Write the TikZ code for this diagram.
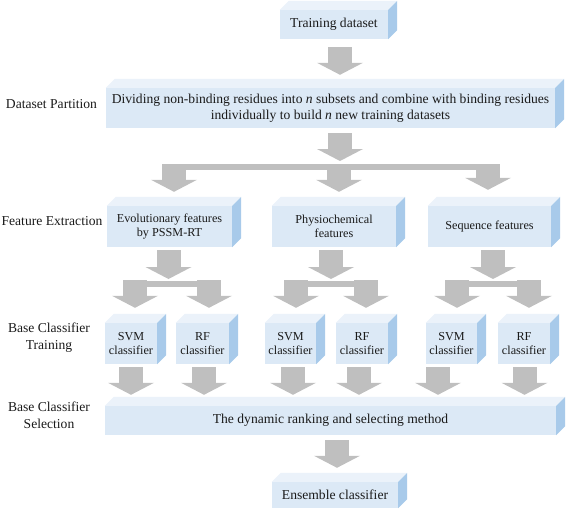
\documentclass[tikz,border=0pt]{standalone}
\usepackage{fontspec}
\setmainfont{Liberation Serif}
\usetikzlibrary{arrows.meta,calc}
\definecolor{frontc}{HTML}{DCE9F6}
\definecolor{topc}{HTML}{EBF2FA}
\definecolor{sidec}{HTML}{A8CAEA}
\definecolor{arrc}{HTML}{BFBFBF}
\definecolor{txtc}{HTML}{1A1A1A}
\tikzset{
  box/.style={fill=frontc, inner sep=0pt, align=center, text=txtc,
    font=\fontsize{13.6}{16}\selectfont},
  sbox/.style={box, font=\fontsize{12.2}{14.5}\selectfont},
  lab/.style={align=center, inner sep=0pt, text=txtc,
    font=\fontsize{13.6}{17}\selectfont},
  barr/.style={draw=arrc, line width=24pt,
    -{Triangle[width=46pt,length=12pt,line width=0pt]}},
  splitbar/.style={draw=arrc, line width=6pt},
}
\newcommand\boxfaces[1]{%
  \fill[topc] (#1.north west) -- ++(9pt,9pt) -- ($(#1.north east)+(9pt,9pt)$) -- (#1.north east) -- cycle;
  \fill[sidec] (#1.north east) -- ++(9pt,9pt) -- ($(#1.south east)+(9pt,9pt)$) -- (#1.south east) -- cycle;}
\begin{document}
\begin{tikzpicture}[x=1pt,y=-1pt]
\useasboundingbox (0,0) rectangle (567,511);
% boxes
\node[box, minimum width=108pt, minimum height=29pt] (train) at (334,24.5) {Training dataset};
\node[box, minimum width=449pt, minimum height=40pt] (part) at (330.5,108)
  {Dividing non-binding residues into \emph{n} subsets and combine with binding residues\\individually to build \emph{n} new training datasets};
\node[sbox, minimum width=125pt, minimum height=41pt] (fe1) at (169.5,226.5) {Evolutionary features\\by PSSM-RT};
\node[sbox, minimum width=124pt, minimum height=41pt] (fe2) at (334,226.5) {Physiochemical\\features};
\node[sbox, minimum width=123pt, minimum height=41pt] (fe3) at (489.5,226.5) {Sequence features};
\node[sbox, minimum width=52pt, minimum height=41pt] (svm1) at (131,343.5) {SVM\\classifier};
\node[sbox, minimum width=53pt, minimum height=41pt] (rf1) at (202.5,343.5) {RF\\classifier};
\node[sbox, minimum width=51pt, minimum height=41pt] (svm2) at (290.5,343.5) {SVM\\classifier};
\node[sbox, minimum width=52pt, minimum height=41pt] (rf2) at (362,343.5) {RF\\classifier};
\node[sbox, minimum width=51pt, minimum height=41pt] (svm3) at (451.5,343.5) {SVM\\classifier};
\node[sbox, minimum width=52pt, minimum height=41pt] (rf3) at (524,343.5) {RF\\classifier};
\node[box, minimum width=451pt, minimum height=29pt] (sel) at (330.5,420.5) {The dynamic ranking and selecting method};
\node[box, minimum width=126pt, minimum height=26pt] (ens) at (335,495) {Ensemble classifier};
\foreach \n in {train,part,fe1,fe2,fe3,svm1,rf1,svm2,rf2,svm3,rf3,sel,ens}{\boxfaces{\n}}
% stage labels
\node[lab] (l1) at (51.5,104) {Dataset Partition};
\node[lab] (l2) at (52,221) {Feature Extraction};
\node[lab] (l3) at (49,338) {Base Classifier\\Training};
\node[lab] (l4) at (49,415.5) {Base Classifier\\Selection};
% arrows: training -> partition
\draw[barr] ($(train.south)+(6,8)$) -- ($(part.north)+(9.5,-13)$);
% partition -> split
\coordinate (j0) at (340,161);
\coordinate (jL) at (162,166.5);
\coordinate (jR) at (500,166.5);
\draw[splitbar] (jL) -- (jR);
\draw[barr] ($(part.south)+(9.5,5)$) -- (j0);
\draw[barr] ($(jL)+(12,-2.5)$) -- ($(fe1.north)+(4.5,-14)$);
\draw[barr] ($(j0)+(-1,3)$) -- ($(fe2.north)+(5,-14)$);
\draw[barr] ($(jR)+(-12,-2.5)$) -- ($(fe3.north)+(-1.5,-16)$);
% group 1 split
\coordinate (k1) at (168.5,279);
\coordinate (k1L) at (123,283.5);
\coordinate (k1R) at (221,283.5);
\draw[splitbar] (k1L) -- (k1R);
\draw[barr] ($(fe1.south)+(-1,3)$) -- (k1);
\draw[barr] ($(k1L)+(12,-3.5)$) -- ($(svm1.north)+(4,-15)$);
\draw[barr] ($(k1R)+(-12,-3.5)$) -- ($(rf1.north)+(6.5,-15)$);
% group 2 split
\coordinate (k2) at (331,279);
\coordinate (k2L) at (284,283.5);
\coordinate (k2R) at (378,283.5);
\draw[splitbar] (k2L) -- (k2R);
\draw[barr] ($(fe2.south)+(-3,3)$) -- (k2);
\draw[barr] ($(k2L)+(12,-3.5)$) -- ($(svm2.north)+(5.5,-15)$);
\draw[barr] ($(k2R)+(-12,-3.5)$) -- ($(rf2.north)+(4,-15)$);
% group 3 split
\coordinate (k3) at (493,279);
\coordinate (k3L) at (445,283.5);
\coordinate (k3R) at (541,283.5);
\draw[splitbar] (k3L) -- (k3R);
\draw[barr] ($(fe3.south)+(3.5,3)$) -- (k3);
\draw[barr] ($(k3L)+(12,-3.5)$) -- ($(svm3.north)+(5.5,-15)$);
\draw[barr] ($(k3R)+(-12,-3.5)$) -- ($(rf3.north)+(5,-15)$);
% classifiers -> selection
\draw[barr] ($(svm1.south)+(0,3)$) -- ($(sel.north)+(-199.5,-11)$);
\draw[barr] ($(rf1.south)+(1.5,3)$) -- ($(sel.north)+(-126.5,-11)$);
\draw[barr] ($(svm2.south)+(2.5,3)$) -- ($(sel.north)+(-37.5,-11)$);
\draw[barr] ($(rf2.south)+(-3,3)$) -- ($(sel.north)+(28.5,-11)$);
\draw[barr] ($(svm3.south)+(-13.5,3)$) -- ($(sel.north)+(107.5,-11)$);
\draw[barr] ($(rf3.south)+(0.5,3)$) -- ($(sel.north)+(194,-11)$);
% selection -> ensemble
\draw[barr] ($(sel.south)+(6.5,5)$) -- ($(ens.north)+(2,-14)$);
\end{tikzpicture}
\end{document}
